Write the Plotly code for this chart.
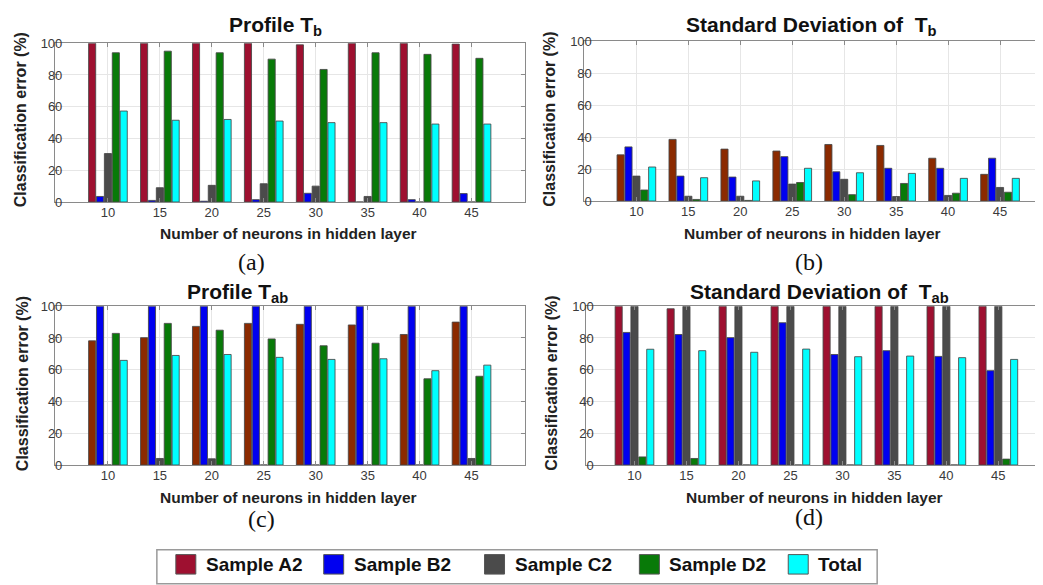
import plotly.graph_objects as go

# The page body adds an 8px margin; coordinates below are given in
# screenshot pixels and shifted by OFF to figure pixels.
OFF = 8
W, H = 1043 - OFF, 585 - OFF

neurons = [10, 15, 20, 25, 30, 35, 40, 45]
series_names = ["Sample A2", "Sample B2", "Sample C2", "Sample D2", "Total"]

# (a) Profile T_b
a_A2 = [100, 100, 100, 100, 99, 100, 100, 99.5]
a_B2 = [3.5, 1, 0.5, 1.5, 5.5, 0, 1.5, 5.3]
a_C2 = [30.5, 9, 10.5, 11.5, 10, 3.5, 0, 0]
a_D2 = [94, 95, 94, 90, 83.5, 94, 93, 90.5]
a_Tot = [57.3, 51.5, 52, 51, 50, 50, 49.1, 49.1]

# (b) Standard deviation of T_b
b_A2 = [28.9, 38.6, 32.5, 31.3, 35.4, 34.8, 26.8, 16.7]
b_B2 = [33.9, 15.6, 15, 27.8, 18.3, 20.5, 20.5, 26.8]
b_C2 = [15.6, 3, 3, 10.6, 13.6, 2.8, 3.5, 8.5]
b_D2 = [6.9, 1, 0.4, 11.6, 4, 11, 4.9, 5.5]
b_Tot = [21.3, 14.6, 12.6, 20.5, 17.7, 17.3, 14.2, 14.2]

# (c) Profile T_ab
c_A2 = [78.2, 80.2, 87.3, 89.2, 88.6, 88.2, 82.2, 90]
c_B2 = [100, 100, 100, 100, 100, 100, 100, 100]
c_C2 = [0, 4.1, 3.9, 0, 0, 0, 0, 4.1]
c_D2 = [82.9, 89.2, 84.9, 79.4, 75.1, 76.7, 54.3, 55.9]
c_Tot = [65.9, 69, 69.6, 67.8, 66.5, 66.9, 59.4, 62.9]

# (d) Standard deviation of T_ab
d_A2 = [100, 98.4, 100, 100, 100, 100, 100, 100]
d_B2 = [83.5, 82.2, 80.2, 89.6, 69.6, 72, 68.4, 59.4]
d_C2 = [100, 100, 100, 100, 100, 100, 100, 100]
d_D2 = [5.1, 4.1, 0, 0, 0, 0, 0, 3.7]
d_Tot = [72.9, 72, 71, 73, 68.2, 68.6, 67.6, 66.5]

CRIMSON = "#9E1030"
BROWN = "#8B2A00"
BLUE = "#0000F0"
GRAY = "#4B4B4B"
GREEN = "#087A08"
CYAN = "#00FFFF"

panels = [
    ("x", "y", [a_A2, a_B2, a_C2, a_D2, a_Tot], [CRIMSON, BLUE, GRAY, GREEN, CYAN]),
    ("x2", "y2", [b_A2, b_B2, b_C2, b_D2, b_Tot], [BROWN, BLUE, GRAY, GREEN, CYAN]),
    ("x3", "y3", [c_A2, c_B2, c_C2, c_D2, c_Tot], [BROWN, BLUE, GRAY, GREEN, CYAN]),
    ("x4", "y4", [d_A2, d_B2, d_C2, d_D2, d_Tot], [CRIMSON, BLUE, GRAY, GREEN, CYAN]),
]

FONT = "Liberation Sans, Arial, Helvetica, sans-serif"
SERIF = "Liberation Serif, Times New Roman, serif"

fig = go.Figure()
for xa, ya, data, cols in panels:
    for name, vals, col in zip(series_names, data, cols):
        fig.add_trace(go.Bar(
            x=neurons, y=vals, name=name, xaxis=xa, yaxis=ya,
            marker=dict(color=col, line=dict(color="rgba(70,70,70,0.85)", width=1)),
            showlegend=False,
        ))


def px(x):
    return (x - OFF) / W


def py(y):
    return 1 - (y - OFF) / H


def xd(a, b):
    return [max(px(a), 0.0), min(px(b), 1.0)]


def yd(top, bottom):
    return [py(bottom), py(top)]


axis_common = dict(
    showline=True, mirror="ticks", linecolor="#8a8a8a", linewidth=1,
    ticks="inside", ticklen=4, tickcolor="#8a8a8a",
    showgrid=True, gridcolor="#e6e6e6", gridwidth=1,
    zeroline=False,
    tickfont=dict(family=FONT, size=13, color="#3a3a3a"),
)

xspecs = [
    ("xaxis", "y", xd(55, 525), [4.9, 50.1]),
    ("xaxis2", "y2", xd(585, 1043), [5.0, 49.04]),
    ("xaxis3", "y3", xd(55, 525), [4.9, 50.1]),
    ("xaxis4", "y4", xd(587, 1043), [5.38, 49.2]),
]
yspecs = [
    ("yaxis", "x", yd(37, 200)),
    ("yaxis2", "x2", yd(35, 199)),
    ("yaxis3", "x3", yd(307, 470)),
    ("yaxis4", "x4", yd(307, 470)),
]

layout = {}
for name, anchor, dom, rng in xspecs:
    layout[name] = dict(axis_common, domain=dom, anchor=anchor, range=rng,
                        tickmode="array", tickvals=neurons,
                        ticktext=[str(n) for n in neurons],
                        ticklabelstandoff=-2)
for name, anchor, dom in yspecs:
    layout[name] = dict(axis_common, domain=dom, anchor=anchor, range=[0, 100],
                        tickmode="array", tickvals=[0, 20, 40, 60, 80, 100],
                        ticklabelstandoff=-11)

fig.update_layout(
    width=W, height=H,
    margin=dict(l=0, r=0, t=0, b=0),
    paper_bgcolor="white", plot_bgcolor="white",
    barmode="group", bargap=0.24, bargroupgap=0.1,
    showlegend=False,
    **layout,
)

ann = []
# Panel titles
titles = [
    ("<b>Profile T<sub>b</sub></b>", 276, 19),
    ("<b>Standard Deviation of  T<sub>b</sub></b>", 812, 19),
    ("<b>Profile T<sub>ab</sub></b>", 238, 293),
    ("<b>Standard Deviation of  T<sub>ab</sub></b>", 820, 293),
]
for txt, x, y in titles:
    ann.append(dict(text=txt, x=px(x), y=py(y), xref="paper", yref="paper",
                    xanchor="center", yanchor="middle", showarrow=False,
                    font=dict(family=FONT, size=21, color="#111111")))

# Axis titles
for x, y in [(289, 232), (813, 232), (289, 503), (815, 503)]:
    ann.append(dict(text="<b>Number of neurons in hidden layer</b>", x=px(x), y=py(y),
                    xref="paper", yref="paper", xanchor="center", yanchor="middle",
                    showarrow=False, font=dict(family=FONT, size=15.5, color="#222222")))
for x, y in [(20, 115), (550, 115), (22, 386), (552, 386)]:
    ann.append(dict(text="<b>Classification error (%)</b>", x=px(x), y=py(y),
                    xref="paper", yref="paper", xanchor="center", yanchor="middle",
                    textangle=-90, showarrow=False,
                    font=dict(family=FONT, size=16, color="#222222")))

# Sub-figure labels
for txt, x, y in [("(a)", 252, 262), ("(b)", 810, 262), ("(c)", 262, 525), ("(d)", 810, 523)]:
    ann.append(dict(text=txt, x=px(x), y=py(y), xref="paper", yref="paper",
                    xanchor="center", yanchor="middle", showarrow=False,
                    font=dict(family=SERIF, size=24, color="#111111")))

# Custom legend
legend_cols = [CRIMSON, BLUE, GRAY, GREEN, CYAN]
legend_sq_x = [176, 324, 485, 640, 789]
shapes = [dict(type="rect", xref="paper", yref="paper",
               x0=px(157), x1=px(878), y0=py(592), y1=py(557),
               line=dict(color="#9a9a9a", width=1.5), fillcolor="white", layer="above")]
for name, col, sx in zip(series_names, legend_cols, legend_sq_x):
    shapes.append(dict(type="rect", xref="paper", yref="paper",
                       x0=px(sx), x1=px(sx + 20), y0=py(582), y1=py(562),
                       line=dict(color="#555555", width=1), fillcolor=col, layer="above"))
    ann.append(dict(text="<b>" + name + "</b>", x=px(sx + 28), y=py(572),
                    xref="paper", yref="paper", xanchor="left", yanchor="middle",
                    showarrow=False, font=dict(family=FONT, size=19, color="#111111")))

fig.update_layout(annotations=ann, shapes=shapes)

fig.write_html("out.html")
